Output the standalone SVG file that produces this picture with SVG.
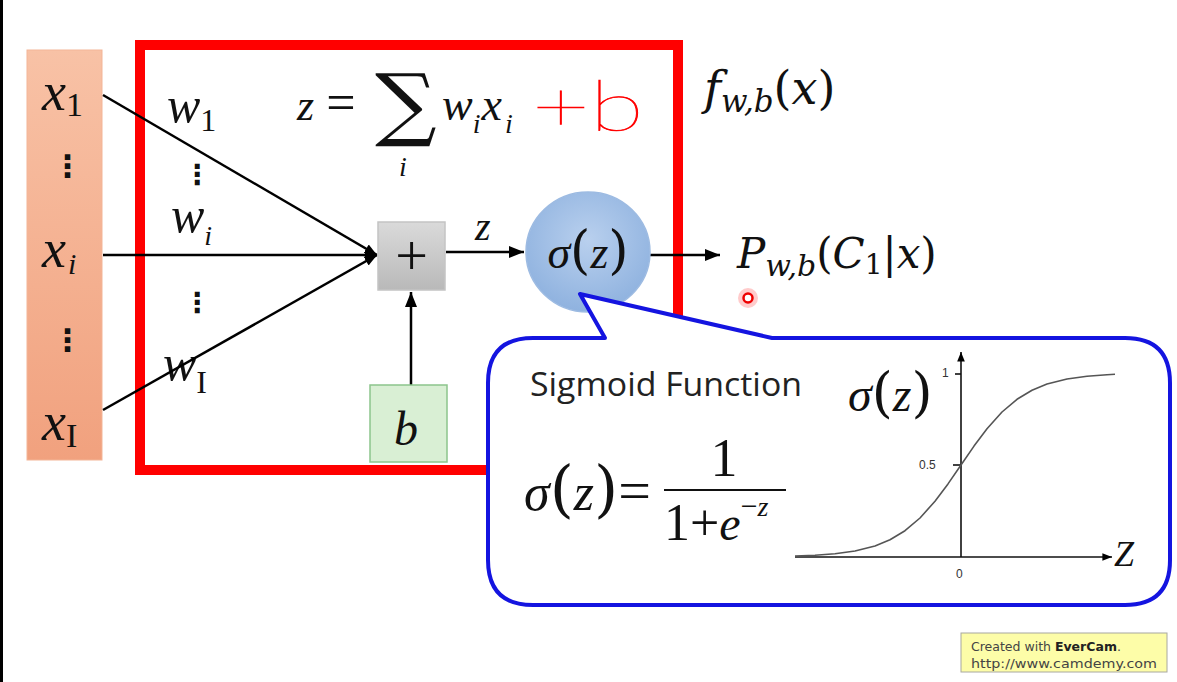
<svg xmlns="http://www.w3.org/2000/svg" width="1177" height="682" viewBox="0 0 1177 682">
<defs>
<linearGradient id="gOr" x1="0" y1="0" x2="0" y2="1"><stop offset="0" stop-color="#f8c2a6"/><stop offset="1" stop-color="#f1a17e"/></linearGradient>
<linearGradient id="gGr" x1="0" y1="0" x2="0" y2="1"><stop offset="0" stop-color="#dadada"/><stop offset="1" stop-color="#b9b9b9"/></linearGradient>
<radialGradient id="gBl" cx="0.5" cy="0.4" r="0.6"><stop offset="0" stop-color="#b9d0ee"/><stop offset="1" stop-color="#8fb2df"/></radialGradient>
<marker id="ah" viewBox="0 0 10 10" refX="10" refY="5" markerWidth="5" markerHeight="5" orient="auto" markerUnits="strokeWidth"><path d="M0,1 L10,5 L0,9 Z" fill="#000"/></marker>
<marker id="ah2" viewBox="0 0 10 10" refX="10" refY="5" markerWidth="8" markerHeight="6" orient="auto" markerUnits="strokeWidth"><path d="M0,1 L10,5 L0,9 Z" fill="#000"/></marker>
</defs>
<style>
.m{font-family:'Liberation Serif','DejaVu Serif',serif;font-style:italic;fill:#111}
.r{font-family:'Liberation Serif','DejaVu Serif',serif;font-style:normal;fill:#111}
.c{font-family:'DejaVu Serif',serif;font-style:italic;fill:#111}
.cr{font-family:'DejaVu Serif',serif;font-style:normal;fill:#111}
.dots{font-family:'DejaVu Sans',sans-serif;font-weight:bold;fill:#111}
.ln{stroke:#000;stroke-width:2.5;fill:none}
.ax{stroke:#111;stroke-width:1.6;fill:none}
.tk{font-family:'Liberation Sans',Arial,sans-serif;font-size:12px;fill:#333}
</style>
<rect x="0" y="0" width="1177" height="682" fill="#fff"/>
<rect x="0" y="0" width="3" height="682" fill="#000"/>

<g id="inputs">
<rect x="27" y="50" width="75" height="410" fill="url(#gOr)" stroke="#f3b597" stroke-width="1"/>
<text x="42" y="110"><tspan class="m" font-size="54">x</tspan><tspan class="r" font-size="34" dy="6">1</tspan></text>
<text class="dots" x="52" y="177" font-size="31">⋮</text>
<text x="42" y="267"><tspan class="m" font-size="54">x</tspan><tspan class="m" font-size="30" dx="2" dy="7">i</tspan></text>
<text class="dots" x="52" y="351" font-size="31">⋮</text>
<text x="42" y="440"><tspan class="m" font-size="54">x</tspan><tspan class="r" font-size="34" dy="7">I</tspan></text>
</g>

<g id="neuron-box">
<rect x="140" y="45" width="538" height="425" fill="#fff" stroke="#ff0000" stroke-width="10"/>
</g>

<g id="weights">
<text x="167" y="122"><tspan class="m" font-size="50">w</tspan><tspan class="r" font-size="32" dy="9">1</tspan></text>
<text class="dots" x="183" y="184" font-size="28">⋮</text>
<text x="171" y="232"><tspan class="m" font-size="50">w</tspan><tspan class="m" font-size="28" dy="13">i</tspan></text>
<text class="dots" x="183" y="312" font-size="28">⋮</text>
<text x="163" y="380"><tspan class="m" font-size="50">w</tspan><tspan class="r" font-size="32" dy="13">I</tspan></text>
</g>

<g id="equation">
<text x="297" y="120"><tspan class="m" font-size="44">z</tspan><tspan class="r" font-size="52" dx="12">=</tspan></text>
<text x="375" y="131" font-size="80" font-family="'DejaVu Serif','DejaVu Sans',serif" fill="#111" transform="translate(375 0) scale(1.08 1) translate(-375 0)">∑</text>
<text class="m" x="399" y="176" font-size="28">i</text>
<text x="442" y="120"><tspan class="m" font-size="46">w</tspan><tspan class="m" font-size="28" dy="13">i</tspan><tspan class="m" font-size="46" dx="1" dy="-13">x</tspan><tspan class="m" font-size="28" dx="3" dy="13">i</tspan></text>
<text x="532" y="131" font-size="70" fill="#ff0000" stroke="#ff0000" stroke-width="0.7" font-family="'DejaVu Sans ExtraLight','Lato Hairline',Lato,sans-serif" font-weight="200" transform="translate(532 0) scale(1.42 1) translate(-532 0)">+b</text>
</g>

<g id="connectors">
<line class="ln" x1="103" y1="95" x2="377" y2="255" marker-end="url(#ah)"/>
<line class="ln" x1="103" y1="255" x2="377" y2="255" marker-end="url(#ah)"/>
<line class="ln" x1="103" y1="410" x2="377" y2="255" marker-end="url(#ah)"/>
<line class="ln" x1="446" y1="252" x2="524" y2="252" marker-end="url(#ah2)" stroke-width="2"/>
<line class="ln" x1="411" y1="385" x2="411" y2="292" marker-end="url(#ah2)" stroke-width="2"/>
<line class="ln" x1="650" y1="255" x2="720" y2="255" marker-end="url(#ah2)" stroke-width="2"/>
</g>

<g id="sum">
<rect x="378" y="222" width="67" height="68" fill="url(#gGr)" stroke="#c4c4c4" stroke-width="1.5"/>
<text class="r" x="411.5" y="275" font-size="58" text-anchor="middle">+</text>
</g>
<text class="m" x="475" y="240" font-size="40">z</text>

<g id="bias">
<rect x="370" y="385" width="77" height="77" fill="#d9efd4" stroke="#8cc58c" stroke-width="1.5"/>
<text class="m" x="406" y="445" font-size="48" text-anchor="middle">b</text>
</g>

<g id="sigmoid-node">
<ellipse cx="588" cy="252" rx="62" ry="60" fill="url(#gBl)" stroke="#9dbbe2" stroke-width="1.5"/>
<text x="588" y="268" font-size="46" text-anchor="middle"><tspan class="m">σ</tspan><tspan class="cr" font-size="52">(</tspan><tspan class="m">z</tspan><tspan class="cr" font-size="52">)</tspan></text>
</g>

<g id="f-label">
<text x="704" y="104" font-size="46"><tspan class="c">f</tspan><tspan class="c" font-size="31" dy="8">w,b</tspan><tspan class="cr" dy="-8">(</tspan><tspan class="c">x</tspan><tspan class="cr">)</tspan></text>
</g>

<g id="output">
<text x="737" y="268" font-size="42"><tspan class="c">P</tspan><tspan class="c" font-size="30" dy="8">w,b</tspan><tspan class="cr" dy="-8">(</tspan><tspan class="c">C</tspan><tspan class="cr" font-size="28" dy="6">1</tspan><tspan class="cr" dy="-6">|</tspan><tspan class="c">x</tspan><tspan class="cr">)</tspan></text>
</g>

<g id="cursor">
<circle cx="748" cy="298" r="10" fill="#ff6a6a" opacity="0.35"/>
<circle cx="748" cy="298" r="4.5" fill="#fff" stroke="#ee0000" stroke-width="2.5"/>
</g>

<g id="callout">
<path d="M605,338 L580,294 L772,338 L1125,338 Q1170,338 1170,383 L1170,560 Q1170,605 1125,605 L533,605 Q488,605 488,560 L488,383 Q488,338 533,338 Z" fill="#fff" stroke="#1414e0" stroke-width="4" stroke-linejoin="round"/>
<text x="530" y="396" font-size="32" font-family="'Open Sans','Liberation Sans',sans-serif" fill="#222" textLength="272" lengthAdjust="spacingAndGlyphs">Sigmoid Function</text>
<text x="524" y="510" font-size="52"><tspan class="m">σ</tspan><tspan class="cr" font-size="62">(</tspan><tspan class="m">z</tspan><tspan class="cr" font-size="62">)</tspan><tspan class="r" font-size="58">=</tspan></text>
<line x1="664" y1="490" x2="786" y2="490" stroke="#111" stroke-width="2"/>
<text class="r" x="724" y="476" font-size="54" text-anchor="middle">1</text>
<text x="664" y="540" font-size="52"><tspan class="r">1+</tspan><tspan class="m" font-size="48">e</tspan><tspan class="r" font-size="30" dy="-24">−</tspan><tspan class="m" font-size="28">z</tspan></text>
</g>

<g id="sigmoid-plot">
<text x="848" y="411" font-size="48"><tspan class="m">σ</tspan><tspan class="cr" font-size="54">(</tspan><tspan class="m">z</tspan><tspan class="cr" font-size="54">)</tspan></text>
<line class="ax" x1="795" y1="557" x2="1112" y2="557" marker-end="url(#ah2)"/>
<line class="ax" x1="961" y1="557" x2="961" y2="352" marker-end="url(#ah2)"/>
<line class="ax" x1="955" y1="374" x2="961" y2="374"/>
<line class="ax" x1="953" y1="465" x2="961" y2="465"/>
<text class="tk" x="942" y="377">1</text>
<text class="tk" x="919" y="469">0.5</text>
<text class="tk" x="956" y="578">0</text>
<text class="m" x="1114" y="566" font-size="36">Z</text>
<path d="M795,556.1 L815,555.3 L835,553.8 L855,551 L875,546 L890,539.8 L905,530.7 L920,518 L935,501.2 L948,483.9 L961,465 L974,446.1 L987,428.8 L1002,412 L1017,399.3 L1032,390.2 L1047,384 L1067,379 L1087,376.2 L1107,374.7 L1115,374.3" fill="none" stroke="#555" stroke-width="1.6" stroke-linejoin="round"/>
</g>

<g id="watermark">
<rect x="961" y="633" width="206" height="39" fill="#fdfda8" stroke="#a8a8a0" stroke-width="1"/>
<text x="971" y="651" font-size="12.5" font-family="'DejaVu Sans',Verdana,sans-serif" fill="#444">Created with <tspan font-weight="bold" fill="#222">EverCam</tspan>.</text>
<text x="971" y="668" font-size="12.5" font-family="'DejaVu Sans',Verdana,sans-serif" fill="#444" textLength="186" lengthAdjust="spacingAndGlyphs">http://www.camdemy.com</text>
</g>
</svg>
